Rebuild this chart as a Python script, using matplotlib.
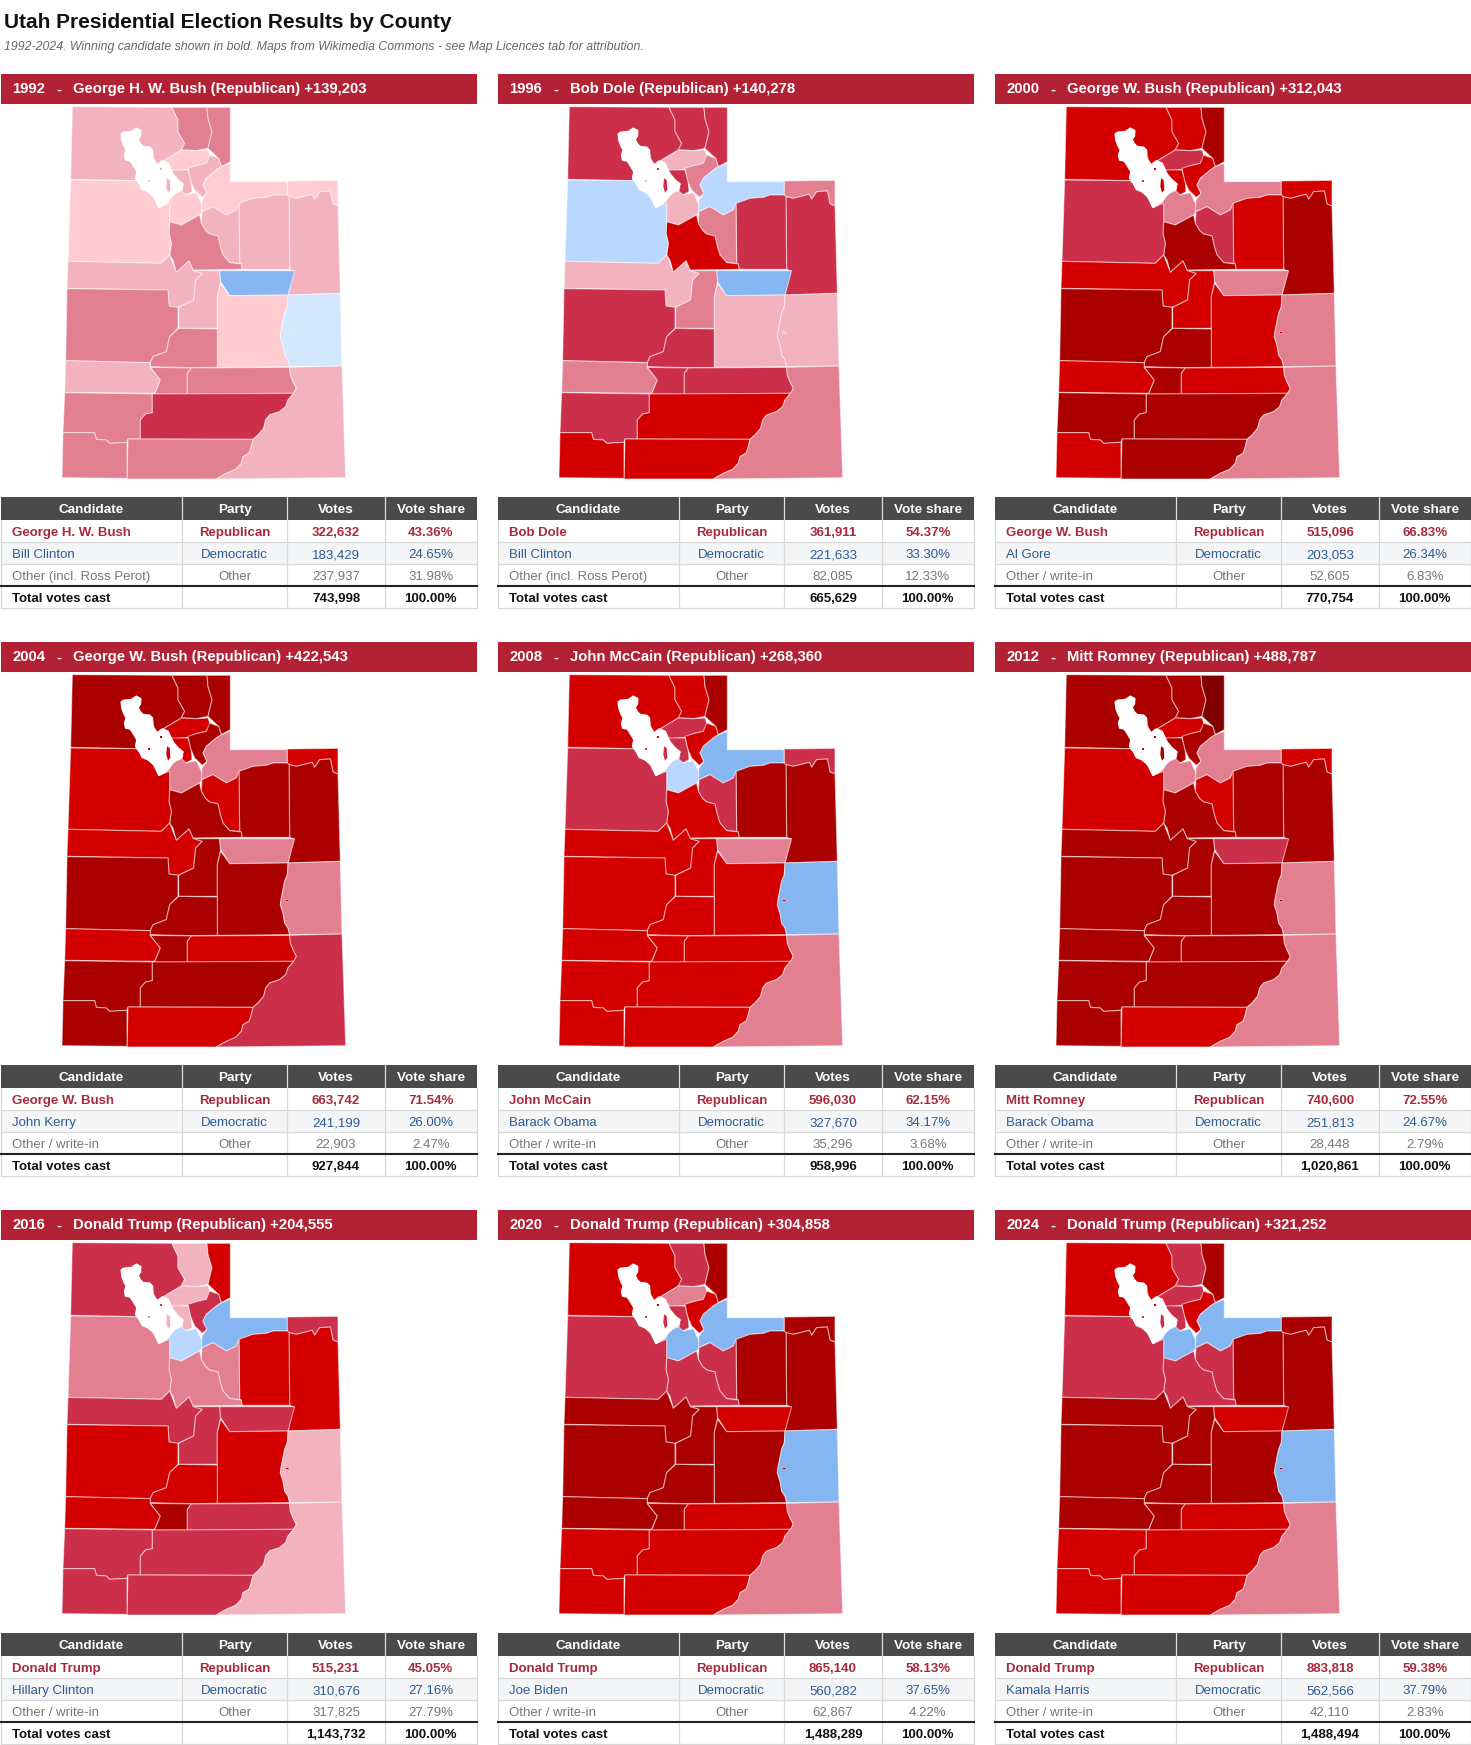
import matplotlib
matplotlib.use("Agg")
import matplotlib.pyplot as plt
from matplotlib.patches import Polygon, Rectangle

plt.rcParams['font.family'] = ['Liberation Sans', 'DejaVu Sans']

# ---------- data ----------
years = [1992, 1996, 2000, 2004, 2008, 2012, 2016, 2020, 2024]
winners = ["George H. W. Bush", "Bob Dole", "George W. Bush", "George W. Bush", "John McCain",
           "Mitt Romney", "Donald Trump", "Donald Trump", "Donald Trump"]
margins = ["+139,203", "+140,278", "+312,043", "+422,543", "+268,360", "+488,787", "+204,555", "+304,858", "+321,252"]
dem_names = ["Bill Clinton", "Bill Clinton", "Al Gore", "John Kerry", "Barack Obama", "Barack Obama",
             "Hillary Clinton", "Joe Biden", "Kamala Harris"]
other_names = ["Other (incl. Ross Perot)", "Other (incl. Ross Perot)"] + ["Other / write-in"] * 7
rep_votes = ["322,632", "361,911", "515,096", "663,742", "596,030", "740,600", "515,231", "865,140", "883,818"]
dem_votes = ["183,429", "221,633", "203,053", "241,199", "327,670", "251,813", "310,676", "560,282", "562,566"]
oth_votes = ["237,937", "82,085", "52,605", "22,903", "35,296", "28,448", "317,825", "62,867", "42,110"]
tot_votes = ["743,998", "665,629", "770,754", "927,844", "958,996", "1,020,861", "1,143,732", "1,488,289", "1,488,494"]
rep_share = ["43.36%", "54.37%", "66.83%", "71.54%", "62.15%", "72.55%", "45.05%", "58.13%", "59.38%"]
dem_share = ["24.65%", "33.30%", "26.34%", "26.00%", "34.17%", "24.67%", "27.16%", "37.65%", "37.79%"]
oth_share = ["31.98%", "12.33%", "6.83%", "2.47%", "3.68%", "2.79%", "27.79%", "4.22%", "2.83%"]
table_columns = ["Candidate", "Party", "Votes", "Vote share"]

shade_colors = {'a': '#ffccd1', 'b': '#f2b3be', 'c': '#e27f90', 'd': '#cc2f4a', 'e': '#d40000',
                'f': '#aa0000', 'g': '#800000', 'x': '#d3e7ff', 'y': '#b9d7ff', 'z': '#86b6f2'}

county_order = ["Box Elder", "Cache", "Rich", "Weber", "Morgan", "Davis", "Salt Lake", "Summit", "Daggett",
                "Uintah", "Duchesne", "Wasatch", "Utah", "Tooele", "Juab", "Sanpete", "Carbon", "Emery", "Grand",
                "Millard", "Sevier", "Beaver", "Piute", "Wayne", "Iron", "Garfield", "Kane", "Washington", "San Juan"]
shades_1992 = list("bcc" "abb" "aa" "a" "bbb" "c" "a" "bb" "z" "a" "x" "cc" "b" "cc" "c" "d" "cc" "b")
shades_1996 = list("ddd" "bcd" "by" "c" "ddc" "e" "y" "bc" "z" "b" "b" "dd" "c" "dd" "d" "e" "ee" "c")
shades_2000 = list("eef" "dee" "cc" "e" "fed" "f" "d" "ee" "c" "e" "c" "ff" "e" "fe" "f" "f" "fe" "c")
shades_2004 = list("fff" "efe" "cc" "e" "ffe" "f" "e" "ef" "c" "f" "c" "ff" "e" "fe" "f" "f" "ef" "d")
shades_2008 = list("eef" "ded" "yz" "d" "ffd" "e" "d" "ee" "c" "e" "z" "ee" "e" "ee" "e" "e" "ee" "c")
shades_2012 = list("ffg" "eff" "cc" "e" "ffe" "f" "e" "ff" "d" "f" "c" "ff" "f" "ff" "f" "f" "ef" "c")
shades_2016 = list("dbe" "bdb" "yz" "d" "eec" "c" "c" "dd" "d" "e" "b" "ee" "e" "fd" "d" "d" "dd" "b")
shades_2020 = list("edf" "ced" "zz" "f" "ffd" "d" "d" "ff" "e" "f" "z" "ff" "f" "fe" "e" "e" "ee" "c")
shades_2024 = list("edf" "ded" "zz" "f" "ffd" "d" "d" "ff" "e" "f" "z" "ff" "f" "fe" "e" "e" "ee" "c")
year_shades = [shades_1992, shades_1996, shades_2000, shades_2004, shades_2008,
               shades_2012, shades_2016, shades_2020, shades_2024]

# shared boundary runs of the county outlines, in map units
green_river = [(705,585),(703,620),(695,640),(690,665),(685,690),(682,710),(690,735),(695,765),(705,780),(710,800)]
colorado_wayne = [(710,802),(712,825),(720,845),(730,865),(722,880)]
colorado_garfield = [(722,880),(705,900),(698,920),(680,935),(650,945),(638,960),(632,985),(615,1005),(600,1018)]
colorado_kane = [(600,1018),(595,1040),(588,1060),(570,1070),(565,1090),(548,1108),(520,1120),(490,1137)]
wasatch_utah = [(445,370),(458,392),(470,402),(495,408),(502,440),(510,465),(530,488)]

county_shapes = {
    "Box Elder": [(58,20),(357,22),(375,60),(375,95),(395,130),(385,150),(335,180),(320,195),(300,230),(250,242),(53,238)],
    "Cache": [(357,22),(462,22),(465,55),(477,95),(465,145),(430,152),(400,150),(385,150),(395,130),(375,95),(375,60)],
    "Rich": [(462,22),(532,22),(532,185),(505,200),(497,175),(470,150),(465,145),(477,95),(465,55)],
    "Weber": [(335,180),(385,150),(430,152),(465,150),(472,170),(460,190),(430,197),(405,208),(360,212),(345,210),(330,190)],
    "Morgan": [(405,205),(430,197),(460,190),(470,165),(497,175),(505,200),(490,210),(460,235),(450,255),(462,280),(448,292),(425,270),(412,240)],
    "Davis": [(345,210),(405,210),(415,250),(417,275),(398,285),(385,278),(390,262),(370,235)],
    "Salt Lake": [(318,322),(355,285),(385,272),(400,285),(430,278),(445,310),(448,335),(440,345),(385,375),(350,365),(350,315)],
    "Summit": [(532,190),(532,245),(703,245),(703,285),(660,285),(640,292),(600,295),(560,310),(550,330),(520,345),(480,320),(445,335),(447,300),(462,280),(450,255),(460,235),(490,210),(505,200)],
    "Daggett": [(703,243),(855,241),(855,318),(840,312),(832,273),(800,275),(785,298),(778,283),(750,290),(730,295),(708,290),(703,285)],
    "Uintah": [(708,290),(730,295),(750,290),(778,283),(785,298),(800,275),(832,273),(840,312),(855,318),(862,580),(705,585),(722,512),(710,508)],
    "Duchesne": [(558,310),(600,295),(640,292),(660,285),(703,285),(708,290),(710,508),(567,508),(565,492),(560,490)],
    "Wasatch": [(447,335),(480,320),(520,345),(550,330),(558,310),(560,490),(530,488)] + wasatch_utah[::-1][1:],
    "Utah": [(350,365),(385,375),(440,345)] + wasatch_utah + [(565,492),(567,508),(420,510),(408,483),(370,517),(360,480),(350,465),(355,430),(348,400)],
    "Tooele": [(53,240),(250,242),(270,262),(305,295),(318,322),(350,310),(350,365),(348,400),(355,430),(350,465),(325,490),(45,484)],
    "Juab": [(45,484),(325,490),(350,465),(370,517),(408,483),(420,510),(448,520),(428,540),(422,600),(375,622),(348,618),(345,570),(42,565)],
    "Sanpete": [(420,512),(500,512),(503,545),(493,590),(493,685),(377,685),(377,622),(422,600),(428,540),(448,520)],
    "Carbon": [(500,512),(725,512),(705,585),(530,587),(503,545)],
    "Emery": [(503,550),(530,587)] + green_river + [(493,802),(493,590)],
    "Grand": [(705,585),(862,580),(867,798)] + green_river[::-1],
    "Millard": [(42,566),(345,570),(348,618),(375,622),(375,685),(350,710),(340,755),(300,770),(292,788),(38,782)],
    "Sevier": [(377,685),(493,687),(493,802),(415,803),(292,800),(292,788),(300,770),(340,755),(350,710)],
    "Beaver": [(38,782),(292,788),(292,803),(322,840),(305,880),(35,877)],
    "Piute": [(292,802),(415,804),(403,820),(403,882),(305,882),(322,840)],
    "Wayne": [(415,804)] + colorado_wayne + [(403,882),(403,820)],
    "Iron": [(35,878),(298,882),(298,938),(278,942),(262,960),(262,1017),(225,1017),(222,1027),(170,1030),(160,1020),(130,1018),(125,998),(30,998)],
    "Garfield": [(298,882)] + colorado_garfield + [(262,1017),(262,960),(278,942),(298,938)],
    "Kane": [(225,1017)] + colorado_kane + [(222,1137)],
    "Washington": [(30,998),(125,998),(130,1018),(160,1020),(170,1030),(222,1027),(222,1135),(27,1133)],
    "San Juan": [(710,802),(867,798),(878,1133)] + colorado_kane[::-1] + colorado_garfield[::-1] + colorado_wayne[::-1][1:-1],
}
lake_shape = [(205,102),(212,97),(235,95),(250,85),(263,92),(262,108),(255,118),(262,132),(270,140),(290,142),(298,150),(300,175),
              (312,195),(328,183),(345,190),(352,205),(360,222),(375,240),(390,252),(385,265),(370,275),(355,290),(345,305),
              (330,315),(318,322),(312,310),(300,285),(285,275),(268,268),(258,248),(248,235),(252,215),(240,195),(232,183),
              (218,180),(215,165),(220,150),(212,135),(207,120)]
island_shape = [(342,235),(350,240),(352,270),(345,278),(340,260)]
north_islet = [(321,204),(328,204),(328,211),(321,211)]
south_islet = [(286,240),(291,240),(291,245),(286,245)]
river_islet = [(697,694),(708,696),(708,701),(697,700)]

# ---------- layout (pixels) ----------
W, H = 1471, 1745
fig = plt.figure(figsize=(W / 100, H / 100), dpi=100, facecolor='white')
page = fig.add_axes([0, 0, 1, 1])
page.set_xlim(0, W); page.set_ylim(H, 0); page.axis('off')

page.text(4, 22, "Utah Presidential Election Results by County", fontsize=15.05, fontweight='bold',
          color='#111111', va='center', ha='left')
page.text(4, 46.5, "1992-2024. Winning candidate shown in bold. Maps from Wikimedia Commons - see Map Licences tab for attribution.",
          fontsize=8.82, style='italic', color='#666666', va='center', ha='left')

panel_x = [0, 497, 994]
row_y = [74, 642, 1210]
col_edges = [0.7, 182.5, 287, 385, 476.7]
row_edges = [423, 446, 468.3, 490.3, 512, 534.3]
RED, BLUE, GREY = '#a82a3c', '#2f5a94', '#777777'
LINE = '#d8d8d8'

for i, yr in enumerate(years):
    x0 = panel_x[i % 3]
    y0 = row_y[i // 3]

    # title band
    page.add_patch(Rectangle((x0 + 1, y0), 476, 29.5, fc='#b22234', ec='none'))
    tkw = dict(color='white', fontsize=10.7, fontweight='bold', va='baseline', ha='left')
    page.text(x0 + 12.3, y0 + 19.3, str(yr), **tkw)
    page.text(x0 + 56.5, y0 + 19.3, "-", **tkw)
    page.text(x0 + 73, y0 + 19.3, f"{winners[i]} (Republican) {margins[i]}", **tkw)

    # map
    ax = fig.add_axes([(x0 + 53) / W, 1 - (y0 + 26 + 385) / H, 310 / W, 385 / H])
    ax.set_xlim(0, 930); ax.set_ylim(1155, 0); ax.axis('off'); ax.patch.set_alpha(0)
    shades = dict(zip(county_order, year_shades[i]))
    for name in county_order:
        ax.add_patch(Polygon(county_shapes[name], closed=True, fc=shade_colors[shades[name]],
                             ec=(1, 1, 1, 0.5), lw=0.8, joinstyle='round'))
    ax.add_patch(Polygon(lake_shape, closed=True, fc='white', ec='white', lw=1.2, joinstyle='round'))
    ax.add_patch(Polygon(island_shape, closed=True, fc=shade_colors[shades["Davis"]], ec='none'))
    ax.add_patch(Polygon(north_islet, closed=True, fc=shade_colors[shades["Box Elder"]], ec='none'))
    ax.add_patch(Polygon(south_islet, closed=True, fc=shade_colors[shades["Tooele"]], ec='none'))
    ax.add_patch(Polygon(river_islet, closed=True, fc=shade_colors[shades["Emery"]], ec=(1, 1, 1, 0.6), lw=0.5))

    # table
    xs = [x0 + c for c in col_edges]
    ys = [y0 + r for r in row_edges]
    page.add_patch(Rectangle((xs[0], ys[0]), xs[-1] - xs[0], ys[1] - ys[0], fc='#4a4a4a', ec='none'))
    page.add_patch(Rectangle((xs[0], ys[2]), xs[-1] - xs[0], ys[3] - ys[2], fc='#f4f5f6', ec='none'))
    for yy in ys[2:4]:
        page.plot([xs[0], xs[-1]], [yy, yy], color=LINE, lw=0.9)
    page.plot([xs[0], xs[-1]], [ys[5], ys[5]], color=LINE, lw=0.9)
    for k, xx in enumerate(xs):
        page.plot([xx, xx], [ys[1], ys[5]], color=LINE, lw=0.9)
        if 0 < k < 4:
            page.plot([xx, xx], [ys[0], ys[1]], color='#dddddd', lw=0.9)
    page.plot([xs[0], xs[-1]], [ys[4], ys[4]], color='#222222', lw=1.5)

    centers = [(xs[k] + xs[k + 1]) / 2 for k in range(4)]
    for k, label in enumerate(table_columns):
        page.text(centers[k], (ys[0] + ys[1]) / 2 + 4.8, label, color='white', fontsize=9.7, fontweight='bold',
                  ha='center', va='baseline')
    rows = [([winners[i], "Republican", rep_votes[i], rep_share[i]], RED, 'bold'),
            ([dem_names[i], "Democratic", dem_votes[i], dem_share[i]], BLUE, 'normal'),
            ([other_names[i], "Other", oth_votes[i], oth_share[i]], GREY, 'normal'),
            (["Total votes cast", "", tot_votes[i], "100.00%"], '#111111', 'bold')]
    for r, (cells, col, wt) in enumerate(rows):
        yc = (ys[r + 1] + ys[r + 2]) / 2 + 4.8
        page.text(xs[0] + 11.5, yc, cells[0], color=col, fontsize=9.5, fontweight=wt, ha='left', va='baseline')
        for k in (1, 2, 3):
            page.text(centers[k], yc, cells[k], color=col, fontsize=9.5, fontweight=wt, ha='center', va='baseline')

fig.savefig("out.png", dpi=100, facecolor='white')
